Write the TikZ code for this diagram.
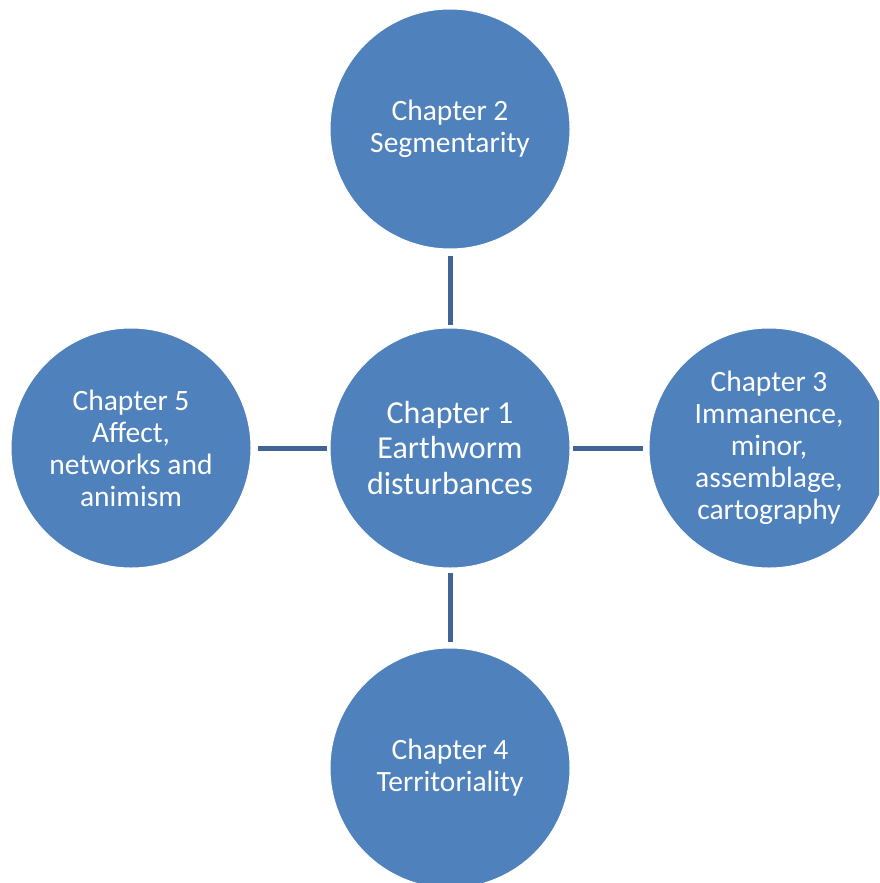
\documentclass[tikz,border=0pt]{standalone}
\usepackage{fontspec}
\setmainfont{Carlito}
\definecolor{bubble}{HTML}{4F81BD}
\definecolor{link}{HTML}{3F6495}
\begin{document}
\begin{tikzpicture}[x=1pt,y=-1pt,
  chap/.style={circle, fill=bubble, draw=white, line width=1pt, minimum size=240pt, inner sep=0pt, text=white, align=center, font=\fontsize{29.5}{32}\selectfont},
  hub/.style={chap, font=\fontsize{32}{35.5}\selectfont},
  conn/.style={draw=link, line width=5pt}]
\useasboundingbox (0,0) rectangle (879,883);
\begin{scope}
\clip (0,0) rectangle (879,883);
\node[hub]  (c1) at (450,448) {Chapter 1\\Earthworm\\disturbances};
\node[chap] (c2) at (450,129) {Chapter 2\\Segmentarity};
\node[chap] (c3) at (769,448) {Chapter 3\\Immanence,\\minor,\\assemblage,\\cartography};
\node[chap] (c4) at (450,768) {Chapter 4\\Territoriality};
\node[chap] (c5) at (131,448) {Chapter 5\\Affect,\\networks and\\animism};
\draw[conn] ([yshift=-6pt]c2.south) -- ([yshift=3pt]c1.north);
\draw[conn] ([yshift=-4pt]c1.south) -- ([yshift=6pt]c4.north);
\draw[conn] ([xshift=6pt]c5.east) -- ([xshift=-3pt]c1.west);
\draw[conn] ([xshift=2pt]c1.east) -- ([xshift=-6pt]c3.west);
\end{scope}
\end{tikzpicture}
\end{document}
